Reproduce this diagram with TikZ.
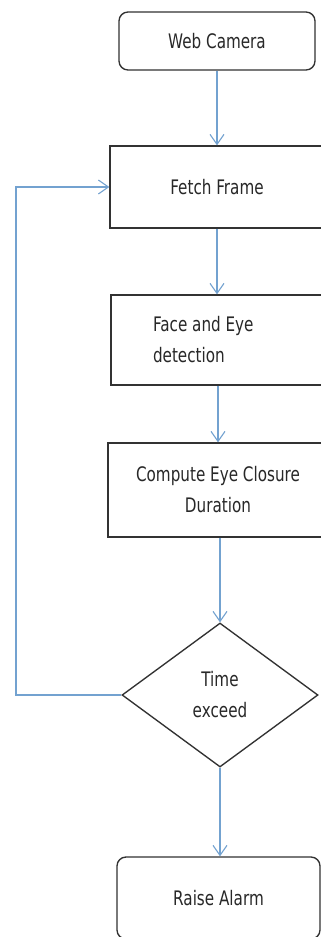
\documentclass[tikz,border=0pt]{standalone}
\usepackage{fontspec}
\setmainfont[FakeStretch=0.76]{DejaVu Sans}
\usetikzlibrary{arrows.meta,shapes.geometric}
\definecolor{lineblue}{RGB}{115,162,208}
\definecolor{boxgray}{RGB}{50,50,50}
\definecolor{txtgray}{RGB}{40,40,40}
\tikzset{
  box/.style={draw=boxgray, line width=1.35pt, rectangle, inner sep=0pt,
    font=\fontsize{20}{31}\selectfont, text=txtgray, align=center},
  rbox/.style={box, rounded corners=9pt},
  decision/.style={draw=boxgray, line width=1.35pt, diamond, inner sep=0pt,
    minimum width=196pt, minimum height=144pt,
    font=\fontsize{20}{31}\selectfont, text=txtgray, align=center},
  arr/.style={draw=lineblue, line width=1.1pt, -{Straight Barb[length=10pt,width=14pt]}}
}
\begin{document}
\begin{tikzpicture}[x=1pt,y=-1pt]
\useasboundingbox (0,0) rectangle (321,937);
\fill[white] (0,0) rectangle (321,937);

\node[rbox, minimum width=196pt, minimum height=58pt] (cam) at (217,41) {Web Camera};
\node[box, minimum width=214pt, minimum height=82pt] (fetch) at (217,187) {Fetch Frame};
\node[box, minimum width=214pt, minimum height=90pt, inner xsep=42pt,
      text width=130pt, align=flush left] (face) at (218,340) {Face and Eye\\detection};
\node[box, minimum width=220pt, minimum height=94pt] (comp) at (218,490) {Compute Eye Closure\\Duration};
\node[decision] (dec) at (220,695) {Time\\exceed};
\node[rbox, minimum width=203pt, minimum height=82pt] (alarm) at (218.5,898) {Raise Alarm};

\coordinate (loopx) at (16,0);

\draw[arr] (cam.south) -- (cam.south |- fetch.north);
\draw[arr] (fetch.south) -- (fetch.south |- face.north);
\draw[arr] (face.south) -- (face.south |- comp.north);
\draw[arr] (dec.north |- comp.south) -- (dec.north);
\draw[arr] (dec.south) -- (dec.south |- alarm.north);
\draw[arr] (dec.west) -- (dec.west -| loopx) |- (fetch.west);
\end{tikzpicture}
\end{document}
